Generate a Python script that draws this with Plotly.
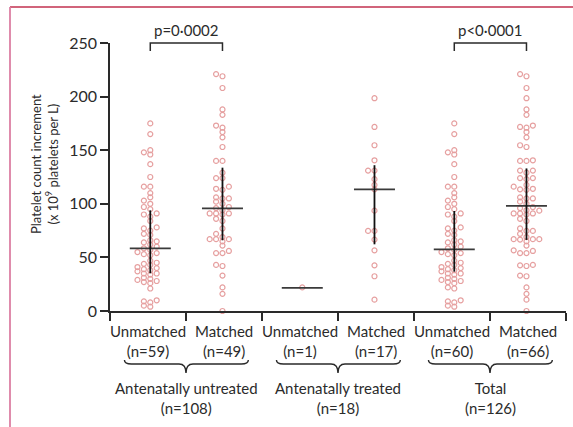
import numpy as np
import plotly.graph_objects as go

# ---------------- data ----------------
categories = ["Unmatched", "Matched", "Unmatched", "Matched", "Unmatched", "Matched"]
n_labels = ["(n=59)", "(n=49)", "(n=1)", "(n=17)", "(n=60)", "(n=66)"]
groups = ["Antenatally untreated", "Antenatally treated", "Total"]
group_n = ["(n=108)", "(n=18)", "(n=126)"]

untreated_unmatched = [175, 165, 150, 148, 146, 137, 125, 116, 116, 110, 106, 103, 100, 97, 95,
                       91, 90, 88, 84, 78, 77, 75, 72, 71, 66, 65, 64, 62, 60,
                       58.5,
                       57, 55, 54, 53, 52, 47, 45, 44, 43, 41, 40, 39, 38, 37,
                       35, 35, 34, 31, 30, 29, 28, 27, 26, 21, 10, 9, 8, 5, 4]
untreated_matched = [221, 219, 208, 188, 183, 173, 171, 167, 162, 153, 140, 140, 129, 124, 124,
                     116, 114, 113, 106, 105, 105, 102, 100, 97, 96,
                     94, 91, 91, 91, 90, 86, 84, 77, 72, 69, 67, 67, 67, 65, 61,
                     56, 54, 54, 43, 42, 33, 22, 16, 0]
treated_unmatched = [22]
treated_matched = [198.5, 171.7, 154.6, 140.6, 131, 131, 123, 117.6, 113.5,
                   93.6, 74.7, 74.7, 66.6, 56.6, 42.6, 32.4, 10.6]
total_unmatched = untreated_unmatched + treated_unmatched
total_matched = untreated_matched + treated_matched
series = [untreated_unmatched, untreated_matched, treated_unmatched,
          treated_matched, total_unmatched, total_matched]

medians = [58.5, 95.8, 21.5, 113.5, 57.5, 98.0]
q1 = [35.2, 66.0, None, 62.2, 36.7, 66.3]
q3 = [93.9, 133.7, None, 136.0, 93.3, 133.0]

p_texts = ["p=0·0002", None, "p<0·0001"]
y_ticks = [0, 50, 100, 150, 200, 250]

# ---------------- layout constants ----------------
W, H = 573, 427
L, R, T, B = 110, 7, 43, 116
PW, PH = W - L - R, H - T - B
XR = [0, 6]
YR = [0, 250]
kx = PW / (XR[1] - XR[0])   # px per x unit
ky = PH / (YR[1] - YR[0])   # px per y unit
FONT = "Lato"
TXT = "#2b2b2b"
DOT = "#e6a0a0"
LINE = "#2a2a2a"


def xp(px):
    return (px - L) / PW


def yp(py):
    return (T + PH - py) / PH


def centre(i):
    return i + 0.5 + (0.03 if i % 2 == 0 else -0.02)


def swarm(vals, c, step=6.4, mind=4.0):
    vals = np.asarray(vals, dtype=float)
    order = np.argsort(vals)
    placed = []
    offs = np.zeros(len(vals))
    cands = [0]
    for k in range(1, 10):
        cands += [-k, k]
    for idx in order:
        yy = vals[idx] * ky
        for k in cands:
            xx = k * step
            if all((xx - a) ** 2 + (yy - b) ** 2 >= mind ** 2 for a, b in placed):
                break
        placed.append((xx, yy))
        offs[idx] = xx / kx
    return c + offs


fig = go.Figure()

for i, vals in enumerate(series):
    fig.add_trace(go.Scatter(
        x=swarm(vals, centre(i)), y=vals, mode="markers", cliponaxis=False,
        marker=dict(symbol="circle-open", size=5, color=DOT, line=dict(width=1.2, color=DOT)),
        hoverinfo="y", showlegend=False))

half = 20.5 / kx
for i in range(6):
    c = centre(i)
    fig.add_trace(go.Scatter(x=[c - half, c + half], y=[medians[i], medians[i]], mode="lines",
                             line=dict(color="#3a3a3a", width=1.8), showlegend=False,
                             hoverinfo="skip", cliponaxis=False))
    if q1[i] is not None:
        fig.add_trace(go.Scatter(x=[c, c], y=[q1[i], q3[i]], mode="lines",
                                 line=dict(color="#111111", width=1.8), showlegend=False,
                                 hoverinfo="skip", cliponaxis=False))

shapes = []
annotations = []

# frame lines
shapes.append(dict(type="line", xref="paper", yref="paper", x0=xp(10), x1=xp(W), y0=yp(7), y1=yp(7),
                   line=dict(color="#c2304f", width=1.5)))
shapes.append(dict(type="line", xref="paper", yref="paper", x0=xp(10), x1=xp(10), y0=yp(7), y1=yp(H),
                   line=dict(color="#dc7fa3", width=1.8)))

# significance brackets
for k, txt in enumerate(p_texts):
    if txt is None:
        continue
    a = centre(2 * k) / 6
    b = centre(2 * k + 1) / 6
    ytop, yleg = yp(43), yp(51)
    shapes.append(dict(type="path", xref="paper", yref="paper",
                       path=f"M {a},{yleg} L {a},{ytop} L {b},{ytop} L {b},{yleg}",
                       line=dict(color=LINE, width=1.5)))
    annotations.append(dict(text=txt, x=(a + b) / 2, y=yp(30), xref="paper", yref="paper",
                            xanchor="center", yanchor="middle", showarrow=False,
                            font=dict(family=FONT, size=15, color=TXT)))

# category labels
for i in range(6):
    annotations.append(dict(text=f"{categories[i]}<br>{n_labels[i]}", x=(i + 0.5) / 6, y=yp(341),
                            xref="paper", yref="paper", xanchor="center", yanchor="middle",
                            showarrow=False, font=dict(family=FONT, size=15, color=TXT)))

# braces and group labels
r = 7 / PW
y0, y1, y2 = yp(360), yp(364), yp(373)
for k in range(3):
    a = (2 * k + 0.19) / 6
    b = (2 * k + 1.82) / 6
    c = (2 * k + 1) / 6
    path = (f"M {a},{y0} Q {a},{y1} {a + r},{y1} L {c - r},{y1} Q {c},{y1} {c},{y2} "
            f"Q {c},{y1} {c + r},{y1} L {b - r},{y1} Q {b},{y1} {b},{y0}")
    shapes.append(dict(type="path", xref="paper", yref="paper", path=path,
                       line=dict(color=LINE, width=1.4)))
    annotations.append(dict(text=f"{groups[k]}<br>{group_n[k]}", x=c, y=yp(398),
                            xref="paper", yref="paper", xanchor="center", yanchor="middle",
                            showarrow=False, font=dict(family=FONT, size=15, color=TXT)))

# y axis title
annotations.append(dict(text="Platelet count increment<br>(x 10<sup>9</sup> platelets per L)",
                        x=xp(44), y=yp(164), xref="paper", yref="paper", textangle=-90,
                        xanchor="center", yanchor="middle", showarrow=False,
                        font=dict(family=FONT, size=13, color=TXT)))

fig.update_layout(
    width=W, height=H, margin=dict(l=L, r=R, t=T, b=B, pad=0),
    paper_bgcolor="white", plot_bgcolor="white",
    shapes=shapes, annotations=annotations, showlegend=False,
    xaxis=dict(range=XR, tickvals=list(range(7)), showticklabels=False, ticks="outside",
               ticklen=8, tickwidth=1.5, tickcolor=LINE, showline=True, linecolor=LINE,
               linewidth=1.5, showgrid=False, zeroline=False, fixedrange=True),
    yaxis=dict(range=YR, tickvals=y_ticks, ticks="outside", ticklen=8, tickwidth=1.5,
               tickcolor=LINE, showline=True, linecolor=LINE, linewidth=1.5, showgrid=False,
               zeroline=False, tickfont=dict(family=FONT, size=16, color=TXT), fixedrange=True),
)

fig.write_html("out.html", config={"displayModeBar": False},
               post_script="document.body.style.margin='0px';")
